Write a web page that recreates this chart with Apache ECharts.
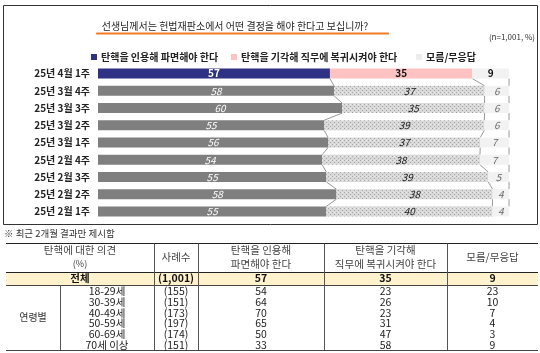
<!DOCTYPE html>
<html>
<head>
<meta charset="utf-8">
<script src="https://cdn.jsdelivr.net/npm/echarts@6/dist/echarts.min.js"></script>
<style>
  html, body { margin: 0; padding: 0; background: #fff; }
  #main { width: 540px; height: 353px; }
</style>
</head>
<body>
<div id="main"></div>
<script>
// weekly survey, newest first
const weeks = ['25년 4월 1주', '25년 3월 4주', '25년 3월 3주', '25년 3월 2주', '25년 3월 1주',
  '25년 2월 4주', '25년 2월 3주', '25년 2월 2주', '25년 2월 1주']
const yes = [57, 58, 60, 55, 56, 54, 55, 58, 55]
const no = [35, 37, 35, 39, 37, 38, 39, 38, 40]
const dk = [9, 6, 6, 6, 7, 7, 5, 4, 4]
const seriesNames = ['탄핵을 인용해 파면해야 한다', '탄핵을 기각해 직무에 복귀시켜야 한다', '모름/무응답']

// table below the chart
const ageGroups = ['18-29세', '30-39세', '40-49세', '50-59세', '60-69세', '70세 이상']
const ageN = ['(155)', '(151)', '(173)', '(197)', '(174)', '(151)']
const ageYes = [54, 64, 70, 65, 50, 33]
const ageNo = [23, 26, 23, 31, 47, 58]
const ageDk = [23, 10, 7, 4, 3, 9]
const totalRow = ['(1,001)', 57, 35, 9]

const FONT = '"Noto Sans CJK KR", sans-serif'
const BLUE = '#2E3184'
const PINK = '#FFC2C2'
const LIGHT = '#F2F2F2'
const GRAY = '#7F7F7F'

// dotted fill like the excel pattern
const pat = document.createElement('canvas')
pat.width = 4
pat.height = 4
const pc = pat.getContext('2d')
pc.fillStyle = '#D9D9D9'
pc.fillRect(0, 0, 4, 4)
pc.fillStyle = '#A6A6A6'
pc.fillRect(0, 0, 1, 1)
pc.fillRect(2, 2, 1, 1)
pc.fillStyle = '#EDEDED'
pc.fillRect(2, 0, 1, 1)
const PATTERN = { image: pat, repeat: 'repeat' }

const totals = yes.map((v, i) => v + no[i] + dk[i])

function segment(vals, first, rest) {
  return vals.map((v, i) => {
    const s = i === 0 ? first : rest
    return {
      value: v / totals[i] * 100,
      raw: v,
      itemStyle: { color: s.color },
      label: {
        color: s.text,
        fontStyle: i === 0 ? 'normal' : 'italic',
        fontWeight: i === 0 ? 'bold' : 'normal'
      }
    }
  })
}

const BAR_W = 10

const barLabel = {
  show: true,
  position: 'inside',
  fontSize: 10,
  fontFamily: FONT,
  formatter: p => p.data.raw
}

function legendAt(left, name) {
  return {
    left: left,
    top: 47,
    icon: 'rect',
    itemWidth: 6,
    itemHeight: 6,
    itemGap: 4,
    selectedMode: false,
    data: [name],
    textStyle: { fontFamily: FONT, fontSize: 10, fontWeight: 'bold', color: '#222', padding: [0, 0, 0, -1] }
  }
}

// ---- table drawing ----
function txt(x, y, text, opt) {
  opt = opt || {}
  return {
    type: 'text',
    silent: true,
    style: {
      x: x,
      y: y,
      text: String(text),
      font: (opt.bold ? 'bold ' : '') + (opt.size || 9.5) + 'px ' + FONT,
      fill: opt.color || '#333',
      align: opt.align || 'center',
      verticalAlign: 'middle',
      textAlign: opt.align || 'center',
      textVerticalAlign: 'middle'
    }
  }
}
function line(x1, y1, x2, y2, color, w) {
  return {
    type: 'line',
    silent: true,
    shape: { x1: x1, y1: y1, x2: x2, y2: y2 },
    style: { stroke: color || '#444', lineWidth: w || 1 }
  }
}

const colX = [6, 60, 154, 198, 324, 447, 538]
const mid = (a, b) => (a + b) / 2
const tTop = 243.5, tHead = 272, tTot = 285, tBot = 350
const rowH = 10.8
const rowY0 = 291

const table = []
table.push({ type: 'rect', silent: true, shape: { x: colX[0], y: tHead, width: colX[6] - colX[0], height: tTot - tHead }, style: { fill: '#FFF2CC' } })
table.push(line(colX[0], tTop, colX[6], tTop, '#222'))
table.push(line(colX[0], tHead + 0.5, colX[6], tHead + 0.5, '#222'))
table.push(line(colX[0], tTot + 0.5, colX[6], tTot + 0.5, '#444'))
table.push(line(colX[0], tBot + 0.5, colX[6], tBot + 0.5, '#444'))
;[2, 3, 4, 5].forEach(k => table.push(line(colX[k] + 0.5, tTop, colX[k] + 0.5, tBot, '#555')))
table.push(line(colX[1] + 0.5, tTot, colX[1] + 0.5, tBot, '#555'))

const HS = 10.5
table.push(txt(mid(colX[0], colX[2]), 250, '탄핵에 대한 의견', { color: '#444', size: HS }))
table.push(txt(mid(colX[0], colX[2]), 263.5, '(%)', { color: '#444', size: 9 }))
table.push(txt(mid(colX[2], colX[3]), 257, '사례수', { color: '#444', size: HS }))
table.push(txt(mid(colX[3], colX[4]), 250, '탄핵을 인용해', { color: '#444', size: HS }))
table.push(txt(mid(colX[3], colX[4]), 264, '파면해야 한다', { color: '#444', size: HS }))
table.push(txt(mid(colX[4], colX[5]), 250, '탄핵을 기각해', { color: '#444', size: HS }))
table.push(txt(mid(colX[4], colX[5]), 264, '직무에 복귀시켜야 한다', { color: '#444', size: HS }))
table.push(txt(mid(colX[5], colX[6]), 257, '모름/무응답', { color: '#444', size: HS }))

table.push(txt(mid(colX[0], colX[2]), 278.5, '전체', { bold: true, color: '#111', size: 10.5 }))
totalRow.forEach((v, k) => table.push(txt(mid(colX[k + 2], colX[k + 3]), 278.5, v, { bold: true, color: '#111', size: 10.5 })))

table.push(txt(mid(colX[0], colX[1]), 317, '연령별', { color: '#333', size: 10 }))
ageGroups.forEach((g, r) => {
  const y = rowY0 + r * rowH
  table.push(txt(mid(colX[1], colX[2]), y, g, { size: 10.5, color: '#222' }))
  table.push(txt(mid(colX[2], colX[3]), y, ageN[r], { size: 10.5, color: '#222' }))
  table.push(txt(mid(colX[3], colX[4]), y, ageYes[r], { size: 10.5, color: '#222' }))
  table.push(txt(mid(colX[4], colX[5]), y, ageNo[r], { size: 10.5, color: '#222' }))
  table.push(txt(mid(colX[5], colX[6]), y, ageDk[r], { size: 10.5, color: '#222' }))
})

const frame = [
  { type: 'rect', silent: true, z: -1, shape: { x: 3.5, y: 5.5, width: 534, height: 219 }, style: { fill: '#fff', stroke: '#333', lineWidth: 1 } },
  txt(235, 26, '선생님께서는 헌법재판소에서 어떤 결정을 해야 한다고 보십니까?', { size: 10, color: '#262626' }),
  { type: 'line', silent: true, shape: { x1: 97, y1: 33.5, x2: 388, y2: 33.5 }, style: { stroke: '#F07B22', lineWidth: 2.2, lineCap: 'round' } },
  txt(535, 37, '(n=1,001, %)', { size: 8, color: '#333', align: 'right' }),
  txt(4, 233, '※ 최근 2개월 결과만 제시함', { size: 9.5, color: '#333', align: 'left' })
]

const chart = echarts.init(document.getElementById('main'), null, { renderer: 'canvas' })
chart.setOption({
  animation: false,
  textStyle: { fontFamily: FONT },
  legend: [legendAt(86, seriesNames[0]), legendAt(226, seriesNames[1]), legendAt(411, seriesNames[2])],
  grid: { left: 98, right: 31, top: 65, bottom: 133 },
  xAxis: { type: 'value', min: 0, max: 100, show: false },
  yAxis: {
    type: 'category',
    inverse: true,
    data: weeks,
    axisLine: { show: false },
    axisTick: { show: false },
    axisLabel: { margin: 8, fontSize: 10, fontWeight: 'bold', color: '#222', fontFamily: FONT }
  },
  graphic: frame.concat(table),
  series: [
    {
      name: seriesNames[0],
      type: 'bar',
      stack: 'all',
      barWidth: BAR_W,
      itemStyle: { color: BLUE },
      label: barLabel,
      data: segment(yes, { color: BLUE, text: '#fff' }, { color: GRAY, text: '#fff' })
    },
    {
      name: seriesNames[1],
      type: 'bar',
      stack: 'all',
      barWidth: BAR_W,
      itemStyle: { color: PINK },
      label: barLabel,
      data: segment(no, { color: PINK, text: '#111' }, { color: PATTERN, text: '#1a1a1a' })
    },
    {
      name: seriesNames[2],
      type: 'bar',
      stack: 'all',
      barWidth: BAR_W,
      itemStyle: { color: '#EDEDED' },
      label: barLabel,
      data: segment(dk, { color: LIGHT, text: '#111' }, { color: LIGHT, text: '#666' })
    },
    {
      // excel style series lines between rows
      type: 'custom',
      silent: true,
      coordinateSystem: 'cartesian2d',
      encode: { x: 0, y: 1 },
      data: weeks.slice(1).map((w, i) => [0, i]),
      renderItem: (params, api) => {
        const i = params.dataIndex
        const cum = r => [yes[r] / totals[r] * 100, (yes[r] + no[r]) / totals[r] * 100, 100]
        const a = cum(i), b = cum(i + 1)
        return {
          type: 'group',
          children: a.map((v, k) => {
            const p1 = api.coord([v, i])
            const p2 = api.coord([b[k], i + 1])
            return {
              type: 'line',
              shape: { x1: p1[0], y1: p1[1] + BAR_W / 2, x2: p2[0], y2: p2[1] - BAR_W / 2 },
              style: { stroke: '#9A9A9A', lineWidth: 1 }
            }
          })
        }
      }
    }
  ]
})
</script>
</body>
</html>
